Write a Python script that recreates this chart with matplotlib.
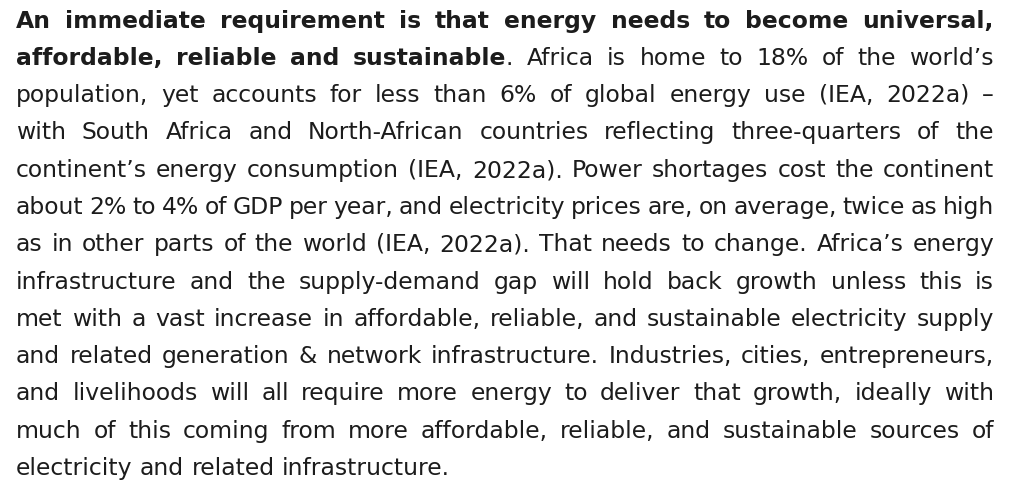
import matplotlib
matplotlib.use("Agg")
import matplotlib.pyplot as plt

# Paragraph lines (as broken in the reference) and how many leading characters are bold
line_texts = [
    "An immediate requirement is that energy needs to become universal,",
    "affordable, reliable and sustainable. Africa is home to 18% of the world\u2019s",
    "population, yet accounts for less than 6% of global energy use (IEA, 2022a) \u2013",
    "with South Africa and North-African countries reflecting three-quarters of the",
    "continent\u2019s energy consumption (IEA, 2022a). Power shortages cost the continent",
    "about 2% to 4% of GDP per year, and electricity prices are, on average, twice as high",
    "as in other parts of the world (IEA, 2022a). That needs to change. Africa\u2019s energy",
    "infrastructure and the supply-demand gap will hold back growth unless this is",
    "met with a vast increase in affordable, reliable, and sustainable electricity supply",
    "and related generation & network infrastructure. Industries, cities, entrepreneurs,",
    "and livelihoods will all require more energy to deliver that growth, ideally with",
    "much of this coming from more affordable, reliable, and sustainable sources of",
    "electricity and related infrastructure.",
]
bold_chars = [len(line_texts[0]), len("affordable, reliable and sustainable"),
              0, 0, 0, 0, 0, 0, 0, 0, 0, 0, 0]

W, H = 1014, 480
FAMILY = "DejaVu Sans"
COLOR = "#1c1c1c"
X0, X1 = 16, 994
BASE0, STEP = 27.5, 37.3
LAST_WIDTH = 436.0

fig = plt.figure(figsize=(W / 100, H / 100), dpi=100)
fig.patch.set_facecolor("white")
renderer = fig.canvas.get_renderer()


def measure(s, bold, size):
    t = fig.text(0, 0, s, fontsize=size, family=FAMILY,
                 fontweight="bold" if bold else "normal")
    w = t.get_window_extent(renderer).width
    t.remove()
    return w


# choose font size so the natural width of the final line matches the reference
base_size = 14.0
w = measure(line_texts[-1], False, base_size)
size = base_size * LAST_WIDTH / w


def split_words(text, nbold):
    words = []
    pos = 0
    for word in text.split(" "):
        start, end = pos, pos + len(word)
        pieces = []
        if end <= nbold:
            pieces.append((word, True))
        elif start >= nbold:
            pieces.append((word, False))
        else:
            k = nbold - start
            pieces.append((word[:k], True))
            pieces.append((word[k:], False))
        words.append(pieces)
        pos = end + 1
    return words


for i, (txt, nb) in enumerate(zip(line_texts, bold_chars)):
    words = split_words(txt, nb)
    widths = []
    for pieces in words:
        widths.append([measure(p, b, size) for p, b in pieces])
    total = sum(sum(ws) for ws in widths)
    last = i == len(line_texts) - 1
    if last or len(words) < 2:
        gap = measure("a b", False, size) - measure("ab", False, size)
    else:
        gap = (X1 - X0 - total) / (len(words) - 1)
    x = X0
    y = 1 - round(BASE0 + i * STEP) / H
    for pieces, ws in zip(words, widths):
        for (p, b), pw in zip(pieces, ws):
            fig.text(x / W, y, p, fontsize=size, family=FAMILY, color=COLOR,
                     fontweight="bold" if b else "normal",
                     ha="left", va="baseline")
            x += pw
        x += gap

fig.savefig("out.png", dpi=100, facecolor="white")
